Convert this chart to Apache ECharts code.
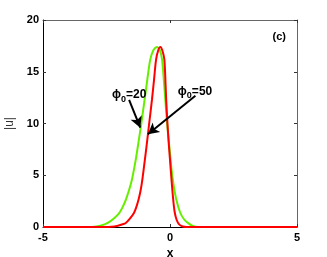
<!DOCTYPE html>
<html><head><meta charset="utf-8">
<script src="https://cdn.jsdelivr.net/npm/echarts@6/dist/echarts.min.js"></script>
<style>html,body{margin:0;padding:0;background:#fff}#c{width:327px;height:257px}</style>
</head><body><div id="c"></div>
<script>
// [x, |u|] samples
const green20 = [[-5,0],[-3.2,0],[-2.9,0.05],[-2.7,0.15],[-2.45,0.39],[-2.2,0.85],[-2.0,1.35],[-1.87,1.9],[-1.74,2.63],[-1.62,3.5],[-1.5,4.56],[-1.35,6.48],[-1.24,8.2],[-1.13,10],[-1.0,12.3],[-0.89,14.3],[-0.78,16.15],[-0.65,17.1],[-0.51,17.4],[-0.4,17.1],[-0.31,16.15],[-0.2,12.8],[-0.12,10.2],[-0.02,7.6],[0.06,5.6],[0.14,4.1],[0.25,2.63],[0.4,1.4],[0.55,0.75],[0.73,0.35],[0.9,0.1],[1.1,0],[5,0]];
const red50 = [[-5,0],[-2.6,0],[-2.3,0.03],[-2.05,0.13],[-1.9,0.24],[-1.74,0.39],[-1.58,0.8],[-1.42,1.35],[-1.33,1.9],[-1.24,2.63],[-1.16,3.5],[-1.09,4.56],[-0.99,6.48],[-0.9,8.3],[-0.82,10],[-0.71,12.3],[-0.63,14.2],[-0.55,16.15],[-0.46,17.1],[-0.38,17.4],[-0.3,17.05],[-0.22,16.15],[-0.15,12.3],[-0.1,10],[-0.05,8.1],[0.0,6.48],[0.06,4.56],[0.12,2.8],[0.18,1.5],[0.26,0.7],[0.36,0.25],[0.5,0.05],[0.65,0],[5,0]];
const xTicks = [-5, 0, 5];
const yTicks = [0, 5, 10, 15, 20];
// annotations: text anchor and arrow [start, end] in data units
const ann20 = {text: '20', at: [-2.28, 12.75], arrow: [[-1.61, 12.28], [-1.17, 9.6]]};
const ann50 = {text: '50', at: [0.31, 13.05], arrow: [[1.0, 12.69], [-0.87, 8.97]]};
const panelLabel = {text: '(c)', at: [4.3, 18.4]};

const FONT = '"Liberation Sans", Arial, sans-serif';
const tickLabel = {color:'#000', fontFamily:FONT, fontWeight:'bold', fontSize:11};
function mkAxis(type, pos, showLabel, extra){
  return Object.assign({
    type:'value', position:pos, min: type==='x'?-5:0, max: type==='x'?5:20, interval:5,
    axisLine:{show:true, onZero:false, lineStyle:{color: showLabel?'#000':'#666', width:1}},
    axisTick:{show:true, inside:true, length:3, lineStyle:{color:'#333'}},
    axisLabel: showLabel ? Object.assign({margin: type==='x'?5:4}, tickLabel) : {show:false},
    splitLine:{show:false}
  }, extra||{});
}
function annLabel(a){
  return {coord:a.at, symbol:'circle', symbolSize:0,
    label:{show:true, position:'inside', align:'left', verticalAlign:'middle',
      formatter:'{a|ϕ}{s|0}{a|=' + a.text + '}',
      rich:{a:{fontFamily:FONT, fontWeight:'bold', fontSize:12, color:'#000'},
            s:{fontFamily:FONT, fontWeight:'bold', fontSize:9, color:'#000', padding:[8,0,0,0]}}}};
}
function annArrow(a){
  return [{coord:a.arrow[0], symbol:'none'},{coord:a.arrow[1], symbol:'arrow', symbolSize:[9,11]}];
}
const chart = echarts.init(document.getElementById('c'), null, {renderer:'canvas'});
chart.setOption({
  animation:false,
  backgroundColor:'#fff',
  grid:{left:43, right:30, top:20, bottom:30, show:false, containLabel:false, outerBoundsMode:'none'},
  xAxis:[
    mkAxis('x','bottom',true,{name:'x', nameLocation:'middle', nameGap:19,
      nameTextStyle:{color:'#000', fontFamily:FONT, fontWeight:'bold', fontSize:12}}),
    mkAxis('x','top',false)
  ],
  yAxis:[
    mkAxis('y','left',true,{name:'|u|', nameLocation:'middle', nameGap:21, nameRotate:90,
      nameTextStyle:{color:'#333', fontFamily:FONT, fontSize:12}}),
    mkAxis('y','right',false)
  ],
  series:[
    {type:'line', data:green20, smooth:0.25, showSymbol:false, lineStyle:{color:'#66ee00', width:2}, z:2,
     markPoint:{data:[annLabel(ann20), annLabel(ann50),
       {coord:panelLabel.at, symbol:'circle', symbolSize:0,
        label:{show:true, position:'inside', formatter:panelLabel.text, fontFamily:FONT, fontWeight:'bold', fontSize:11, color:'#000'}}]}},
    {type:'line', data:red50, smooth:0.25, showSymbol:false, lineStyle:{color:'#ff0000', width:2}, z:3,
     markLine:{silent:true, symbol:['none','arrow'], label:{show:false},
       lineStyle:{color:'#000', width:2, type:'solid'},
       data:[annArrow(ann20), annArrow(ann50)]}}
  ]
});
</script></body></html>
